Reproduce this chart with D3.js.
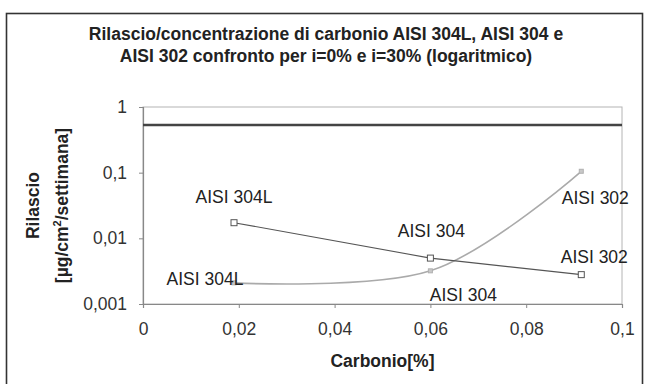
<!DOCTYPE html>
<html>
<head>
<meta charset="utf-8">
<script src="https://cdn.jsdelivr.net/npm/d3@7"></script>
<style>
  html, body { margin: 0; padding: 0; background: #fff; }
  svg { display: block; font-family: Arial, 'Liberation Sans', sans-serif; }
</style>
</head>
<body>
<script>
const d3 = window.d3;

// data
const materials = ['AISI 304L', 'AISI 304', 'AISI 302'];
const carbon = [0.019, 0.06, 0.0915];
const releaseLinear = [0.0173, 0.005, 0.0028];
const releaseCurve = [0.0021, 0.0032, 0.105];
const limitValue = 0.53;
const xTicks = [0, 0.02, 0.04, 0.06, 0.08, 0.1];
const yTicks = [1, 0.1, 0.01, 0.001];
const titleLines = [
  'Rilascio/concentrazione di carbonio AISI 304L, AISI 304 e',
  'AISI 302 confronto per i=0% e i=30% (logaritmico)',
];

const W = 646;
const H = 384;
const FONT = 17.5;
const comma = (v) => String(v).replace('.', ',');

const svg = d3.select('body').append('svg').attr('width', W).attr('height', H);

svg.append('rect').attr('width', W).attr('height', H).attr('fill', '#fff');

// outer chart frame
svg.append('rect')
  .attr('x', 6.5).attr('y', 13.5)
  .attr('width', 636).attr('height', 400)
  .attr('fill', 'none')
  .attr('stroke', '#333')
  .attr('stroke-width', 1.6);

const x = d3.scaleLinear().domain([0, 0.1]).range([143, 622]);
const y = d3.scaleLog().domain([0.001, 1]).range([304, 107]);

// plot area border
svg.append('rect')
  .attr('x', x(0)).attr('y', y(1))
  .attr('width', x(0.1) - x(0)).attr('height', y(0.001) - y(1))
  .attr('fill', 'none')
  .attr('stroke', '#b4b4b4')
  .attr('stroke-width', 1);

// axes
const xAxis = svg.append('g')
  .attr('transform', `translate(0,${y(0.001)})`)
  .call(d3.axisBottom(x).tickValues(xTicks).tickFormat(comma).tickSize(4).tickPadding(15));
const yAxis = svg.append('g')
  .attr('transform', `translate(${x(0)},0)`)
  .call(d3.axisLeft(y).tickValues(yTicks).tickFormat(comma).tickSize(4).tickPadding(12));

[xAxis, yAxis].forEach((g) => {
  g.select('.domain').attr('stroke', '#888').attr('stroke-width', 1.2);
  g.selectAll('.tick line').attr('stroke', '#888');
  g.selectAll('.tick text')
    .attr('fill', '#333')
    .attr('font-size', FONT)
    .attr('font-family', 'Arial, Liberation Sans, sans-serif');
});

// limit line
svg.append('line')
  .attr('x1', x(0)).attr('x2', x(0.1))
  .attr('y1', y(limitValue)).attr('y2', y(limitValue))
  .attr('stroke', '#444')
  .attr('stroke-width', 2.5);

const rows = materials.map((m, i) => ({
  name: m,
  c: carbon[i],
  lin: releaseLinear[i],
  cur: releaseCurve[i],
}));

// smooth series
svg.append('path')
  .datum(rows)
  .attr('d', d3.line().x((d) => x(d.c)).y((d) => y(d.cur)).curve(d3.curveCardinal.tension(0)))
  .attr('fill', 'none')
  .attr('stroke', '#aaa')
  .attr('stroke-width', 1.6);

svg.selectAll('rect.mk2')
  .data(rows)
  .enter()
  .append('rect')
  .attr('class', 'mk2')
  .attr('x', (d) => x(d.c) - 2)
  .attr('y', (d) => y(d.cur) - 2)
  .attr('width', 4).attr('height', 4)
  .attr('fill', '#c8c8c8')
  .attr('stroke', '#b0b0b0');

// straight series
svg.append('path')
  .datum(rows)
  .attr('d', d3.line().x((d) => x(d.c)).y((d) => y(d.lin)))
  .attr('fill', 'none')
  .attr('stroke', '#555')
  .attr('stroke-width', 1.1);

svg.selectAll('rect.mk1')
  .data(rows)
  .enter()
  .append('rect')
  .attr('class', 'mk1')
  .attr('x', (d) => x(d.c) - 3)
  .attr('y', (d) => y(d.lin) - 3)
  .attr('width', 6).attr('height', 6)
  .attr('fill', '#fff')
  .attr('stroke', '#555')
  .attr('stroke-width', 1);

// data labels (offsets relative to the point)
const linOffsets = [[0, -20], [1, -21], [13, -12]];
const curOffsets = [[-29, 2], [33, 30], [14, 33]];

const labelText = (sel) =>
  sel
    .attr('text-anchor', 'middle')
    .attr('font-size', FONT)
    .attr('fill', '#222')
    .text((d) => d.name);

svg.selectAll('text.lbl1')
  .data(rows)
  .enter()
  .append('text')
  .attr('class', 'lbl1')
  .attr('x', (d, i) => x(d.c) + linOffsets[i][0])
  .attr('y', (d, i) => y(d.lin) + linOffsets[i][1])
  .call(labelText);

svg.selectAll('text.lbl2')
  .data(rows)
  .enter()
  .append('text')
  .attr('class', 'lbl2')
  .attr('x', (d, i) => x(d.c) + curOffsets[i][0])
  .attr('y', (d, i) => y(d.cur) + curOffsets[i][1])
  .call(labelText);

// title
svg.append('text')
  .attr('text-anchor', 'middle')
  .attr('font-size', FONT)
  .attr('font-weight', 'bold')
  .attr('fill', '#222')
  .selectAll('tspan')
  .data(titleLines)
  .enter()
  .append('tspan')
  .attr('x', 326)
  .attr('y', (d, i) => 40 + i * 22)
  .text((d) => d);

// axis titles
svg.append('text')
  .attr('x', (x(0) + x(0.1)) / 2)
  .attr('y', 367)
  .attr('text-anchor', 'middle')
  .attr('font-size', FONT)
  .attr('font-weight', 'bold')
  .attr('fill', '#222')
  .text('Carbonio[%]');

const yTitle = svg.append('text')
  .attr('transform', `translate(0,${(y(1) + y(0.001)) / 2}) rotate(-90)`)
  .attr('text-anchor', 'middle')
  .attr('font-size', FONT)
  .attr('font-weight', 'bold')
  .attr('fill', '#222');

yTitle.append('tspan').attr('x', 0).attr('y', 39).text('Rilascio');
const second = yTitle.append('tspan').attr('x', 0).attr('y', 68);
second.append('tspan').text('[µg/cm');
second.append('tspan').attr('dy', -7).attr('font-size', 11).text('2');
second.append('tspan').attr('dy', 7).text('/settimana]');
</script>
</body>
</html>
